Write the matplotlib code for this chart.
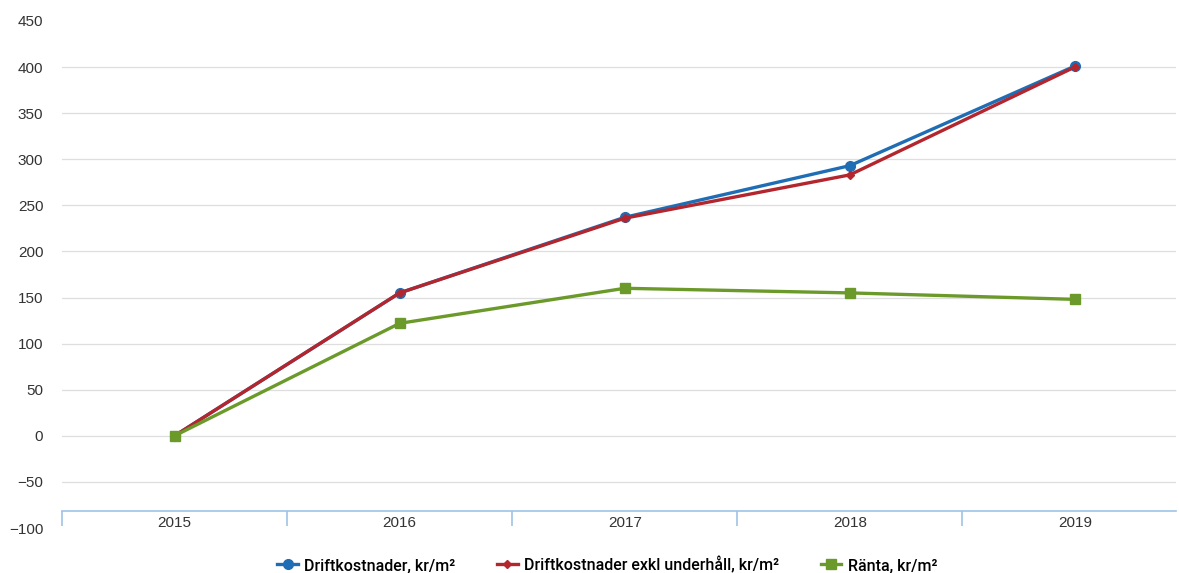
import matplotlib.pyplot as plt
import numpy as np

# Kostnader per kvadratmeter, år för år
years = ["2015", "2016", "2017", "2018", "2019"]
driftkostnader = [0, 155, 237, 293, 401]
drift_exkl_underhall = [0, 155, 236, 283, 400]
ranta = [0, 122, 160, 155, 148]

y_ticks = [-100, -50, 0, 50, 100, 150, 200, 250, 300, 350, 400, 450]

SERIER = [
    ("Driftkostnader, kr/m²", driftkostnader, "#1f6db4", "o", 7),
    ("Driftkostnader exkl underhåll, kr/m²", drift_exkl_underhall, "#b3262e", "D", 4),
    ("Ränta, kr/m²", ranta, "#6b9a2b", "s", 7),
]

plt.rcParams["font.family"] = ["Liberation Sans", "DejaVu Sans"]

fig = plt.figure(figsize=(11.79, 5.73), dpi=100)
ax = fig.add_axes([0.0526, 0.0785, 0.945, 0.885])

x = np.arange(len(years))

# stödlinjer
for v in y_ticks[1:-1]:
    ax.axhline(v, color="#dedede", linewidth=0.9, zorder=0)

for namn, vals, farg, mark, ms in SERIER:
    ax.plot(x, vals, color=farg, linewidth=2.4, marker=mark, markersize=ms,
            label=namn, zorder=3)

ax.set_xlim(-0.5, 4.45)
ax.set_ylim(-100, 450)
ax.set_yticks(y_ticks)
ax.set_yticklabels([f"{v}".replace("-", "−") for v in y_ticks])
ax.tick_params(axis="y", length=0, pad=13.5, labelsize=11, labelcolor="#333333")

# kategoriaxel
for s in ["top", "right", "left"]:
    ax.spines[s].set_visible(False)
ax.spines["bottom"].set_position(("data", -81))
ax.spines["bottom"].set_color("#9dc3e6")
ax.spines["bottom"].set_linewidth(1.2)
ax.set_xticks(x)
ax.set_xticklabels(years)
ax.set_xticks(np.arange(-0.5, 4.5, 1), minor=True)
ax.tick_params(axis="x", which="major", length=0, pad=4, labelsize=11,
               labelcolor="#333333")
ax.tick_params(axis="x", which="minor", length=11, width=1.2, color="#9dc3e6",
               direction="out")

fig.legend(loc="lower center", bbox_to_anchor=(0.515, -0.025), ncol=3, frameon=False,
           prop={"family": "Roboto", "weight": "medium", "size": 11.5},
           handlelength=1.3, handletextpad=0.4, columnspacing=2.6)

fig.savefig("out.png", dpi=100)
